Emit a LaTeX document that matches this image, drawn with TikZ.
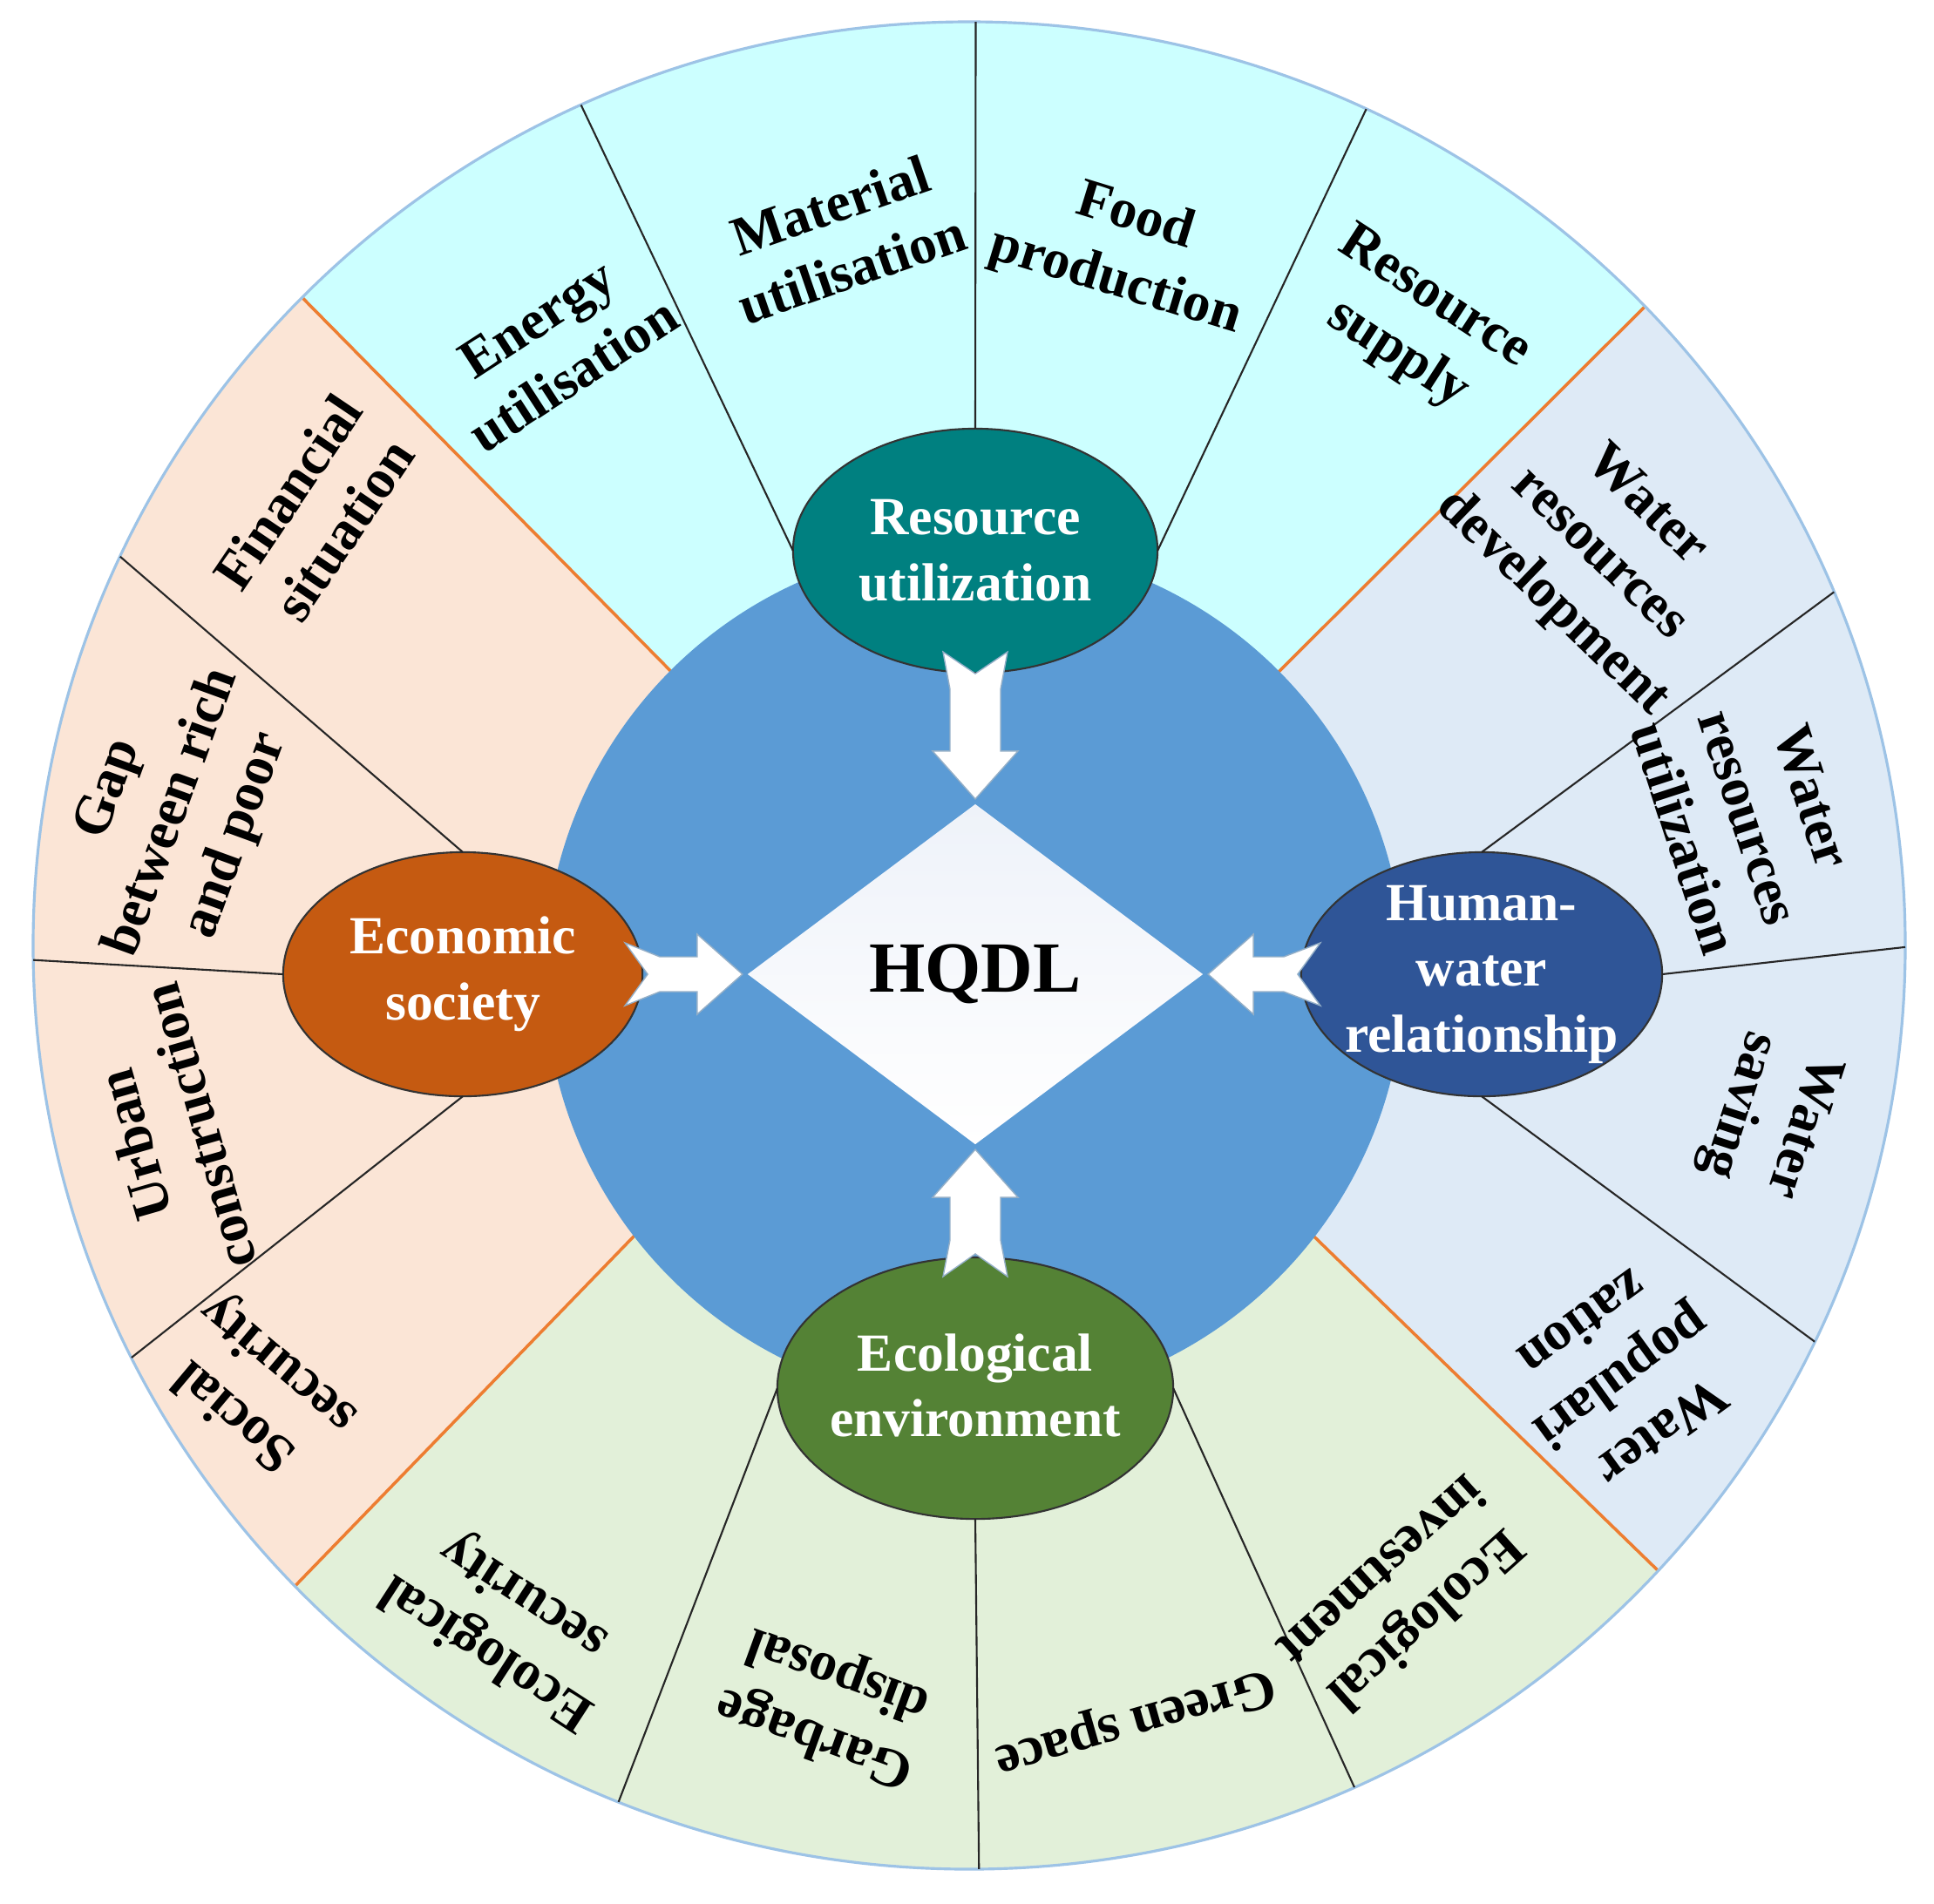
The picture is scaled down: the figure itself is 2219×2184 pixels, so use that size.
\documentclass[tikz,border=0pt]{standalone}
\usepackage{fontspec}
\setmainfont{Liberation Serif}
\usetikzlibrary{shapes.geometric,calc}
\definecolor{cyanbg}{HTML}{CCFFFF}
\definecolor{peachbg}{HTML}{FBE5D6}
\definecolor{bluebg}{HTML}{DEEAF6}
\definecolor{greenbg}{HTML}{E2F0D9}
\definecolor{circblue}{HTML}{5B9BD5}
\definecolor{tealc}{HTML}{008080}
\definecolor{orangec}{HTML}{C55A11}
\definecolor{navyc}{HTML}{2F5597}
\definecolor{greenc}{HTML}{548235}
\definecolor{orangeline}{HTML}{ED7D31}
\definecolor{rimblue}{HTML}{9DC3E6}
\definecolor{diamtop}{HTML}{EEF2F9}
\begin{document}
\begin{tikzpicture}[x=0.01cm,y=-0.01cm,
  rim/.style={draw=rimblue,line width=0.9pt},
  divider/.style={draw=black!85,line width=0.6pt},
  quadline/.style={draw=orangeline,line width=1pt},
  hub/.style={ellipse,draw=black!80,line width=0.6pt,inner sep=0pt,outer sep=0pt},
  hubtext/.style={text=white,font=\fontsize{17.5pt}{21.5pt}\selectfont\bfseries,align=center,inner sep=0pt},
  leaf/.style={font=\fontsize{18pt}{22pt}\selectfont\bfseries,align=center,inner sep=0pt},
  blockarrow/.style={fill=white,draw=rimblue!70!gray,line width=0.4pt,line join=miter}
]
\useasboundingbox (0,0) rectangle (2219,2184);
\fill[white] (0,0) rectangle (2219,2184);

% geometry
\coordinate (O) at (1112,1085);
\coordinate (C) at (1118,1118);
\coordinate (ULin) at (799,800);
\coordinate (URin) at (1437,801);
\coordinate (LRin) at (1483,1395);
\coordinate (LLin) at (756,1389);
\coordinate (ULfar) at (-57,-68);
\coordinate (URfar) at (2304,-64);
\coordinate (LRfar) at (2326,2214);
\coordinate (LLfar) at (-74,2246);

% quadrant fills
\begin{scope}
  \clip (O) ellipse [x radius=1074, y radius=1060];
  \fill[cyanbg]  (C) -- (ULin) -- (ULfar) -- (URfar) -- (URin) -- cycle;
  \fill[bluebg]  (C) -- (URin) -- (URfar) -- (LRfar) -- (LRin) -- cycle;
  \fill[greenbg] (C) -- (LRin) -- (LRfar) -- (LLfar) -- (LLin) -- cycle;
  \fill[peachbg] (C) -- (LLin) -- (LLfar) -- (ULfar) -- (ULin) -- cycle;
  \draw[quadline] (ULin) -- (ULfar);
  \draw[quadline] (URin) -- (URfar);
  \draw[quadline] (LRin) -- (LRfar);
  \draw[quadline] (LLin) -- (LLfar);
\end{scope}
\draw[rim] (O) ellipse [x radius=1074, y radius=1060];

% central blue disc
\fill[circblue] (C) circle [radius=493];

% hub ellipses
\node[hub,fill=tealc,minimum width=4.18cm,minimum height=2.8cm] (ru) at (1119,632) {};
\node[hub,fill=orangec,minimum width=4.12cm,minimum height=2.8cm] (es) at (531,1118) {};
\node[hub,fill=navyc,minimum width=4.14cm,minimum height=2.8cm] (hw) at (1700,1118) {};
\node[hub,fill=greenc,minimum width=4.54cm,minimum height=3.0cm] (ee) at (1119,1593) {};

\node[hubtext] (rut) at (ru) {Resource\\utilization};
\node[hubtext] (est) at (es) {Economic\\society};
\node[hubtext] (hwt) at (hw) {Human-\\water\\relationship};
\node[hubtext] (eet) at ([yshift=0.03cm]ee) {Ecological\\environment};

% outer rim end points of the dividers
\coordinate (tA) at ($(O)+(-114.5:1074 and 1060)$);
\coordinate (tB) at ($(O)+(-89.6:1074 and 1060)$);
\coordinate (tC) at ($(O)+(-64.9:1074 and 1060)$);
\coordinate (lD) at ($(O)+(-155.1:1074 and 1060)$);
\coordinate (lE) at ($(O)+(179.1:1074 and 1060)$);
\coordinate (lF) at ($(O)+(153.5:1074 and 1060)$);
\coordinate (rG) at ($(O)+(-22.5:1074 and 1060)$);
\coordinate (rH) at ($(O)+(0.1:1074 and 1060)$);
\coordinate (rI) at ($(O)+(25.4:1074 and 1060)$);
\coordinate (bJ) at ($(O)+(112.0:1074 and 1060)$);
\coordinate (bK) at ($(O)+(89.4:1074 and 1060)$);
\coordinate (bL) at ($(O)+(65.7:1074 and 1060)$);

\draw[divider] (ru.west) -- (tA);
\draw[divider] (ru.north) -- (tB);
\draw[divider] (ru.east) -- (tC);
\draw[divider] (es.north) -- (lD);
\draw[divider] (es.west) -- (lE);
\draw[divider] (es.south) -- (lF);
\draw[divider] (hw.north) -- (rG);
\draw[divider] (hw.east) -- (rH);
\draw[divider] (hw.south) -- (rI);
\draw[divider] (ee.west) -- (bJ);
\draw[divider] (ee.south) -- (bK);
\draw[divider] (ee.east) -- (bL);

% central diamond
\node[diamond,draw=none,top color=diamtop,bottom color=white,
      minimum width=5.22cm,minimum height=3.9cm,inner sep=0pt,outer sep=0pt] (hq) at (1119,1118) {};
\node[font=\fontsize{23.5pt}{28pt}\selectfont\bfseries,inner sep=0pt] (hqt) at (hq) {HQDL};

% block arrows
\draw[blockarrow] ($(ru.south)+(-37,-24)$) -- ($(ru.south)+(0,1)$) -- ($(ru.south)+(37,-24)$)
  -- ($(ru.south)+(29,19)$) -- ($(hq.north)+(29,-61)$) -- ($(hq.north)+(49,-61)$)
  -- ($(hq.north)+(0,-6)$) -- ($(hq.north)+(-49,-61)$) -- ($(hq.north)+(-29,-61)$)
  -- ($(ru.south)+(-29,19)$) -- cycle;
\draw[blockarrow] ($(ee.north)+(-37,22)$) -- ($(ee.north)+(0,-4)$) -- ($(ee.north)+(37,22)$)
  -- ($(ee.north)+(29,-20)$) -- ($(hq.south)+(29,61)$) -- ($(hq.south)+(49,61)$)
  -- ($(hq.south)+(0,6)$) -- ($(hq.south)+(-49,61)$) -- ($(hq.south)+(-29,61)$)
  -- ($(ee.north)+(-29,-20)$) -- cycle;
\draw[blockarrow] ($(es.east)+(-20,-36)$) -- ($(es.east)+(6,0)$) -- ($(es.east)+(-20,36)$)
  -- ($(es.east)+(20,20)$) -- ($(hq.west)+(-58,20)$) -- ($(hq.west)+(-58,46)$)
  -- ($(hq.west)+(-6,0)$) -- ($(hq.west)+(-58,-46)$) -- ($(hq.west)+(-58,-20)$)
  -- ($(es.east)+(20,-20)$) -- cycle;
\draw[blockarrow] ($(hw.west)+(22,-36)$) -- ($(hw.west)+(-4,0)$) -- ($(hw.west)+(22,36)$)
  -- ($(hw.west)+(-20,20)$) -- ($(hq.east)+(58,20)$) -- ($(hq.east)+(58,46)$)
  -- ($(hq.east)+(6,0)$) -- ($(hq.east)+(58,-46)$) -- ($(hq.east)+(58,-20)$)
  -- ($(hw.west)+(-20,-20)$) -- cycle;

% outer labels
\node[leaf,rotate=33]   (l1)  at (637,398)   {Energy\\utilisation};
\node[leaf,rotate=19]   (l2)  at (965,272)   {Material\\utilisation};
\node[leaf,rotate=-17]  (l3)  at (1291,287)  {Food\\production};
\node[leaf,rotate=-33]  (l4)  at (1624,375)  {Resource\\supply};
\node[leaf,rotate=56]   (l5)  at (362,586)   {Financial\\situation};
\node[leaf,rotate=70]   (l6)  at (199,933)   {Gap\\between rich\\and poor};
\node[leaf,rotate=106]  (l7)  at (191,1303)  {Urban\\construction};
\node[leaf,rotate=140]  (l8)  at (296,1593)  {Social\\security};
\node[leaf,rotate=147]  (l9)  at (581,1862)  {Ecological\\security};
\node[leaf,rotate=160]  (l10) at (949,1956)  {Garbage\\disposal};
\node[leaf,rotate=196]  (l11) at (1302,1975) {Green space};
\node[leaf,rotate=222]  (l12) at (1612,1833) {Ecological\\investment};
\node[leaf,rotate=-144] (l13) at (1862,1582) {Water\\populari\\zation};
\node[leaf,rotate=-108] (l14) at (2030,1280) {Water\\saving};
\node[leaf,rotate=-72]  (l15) at (2006,938)  {Water\\resources\\utilization};
\node[leaf,rotate=-44]  (l16) at (1834,637)  {Water\\resources\\development};
\end{tikzpicture}
\end{document}
